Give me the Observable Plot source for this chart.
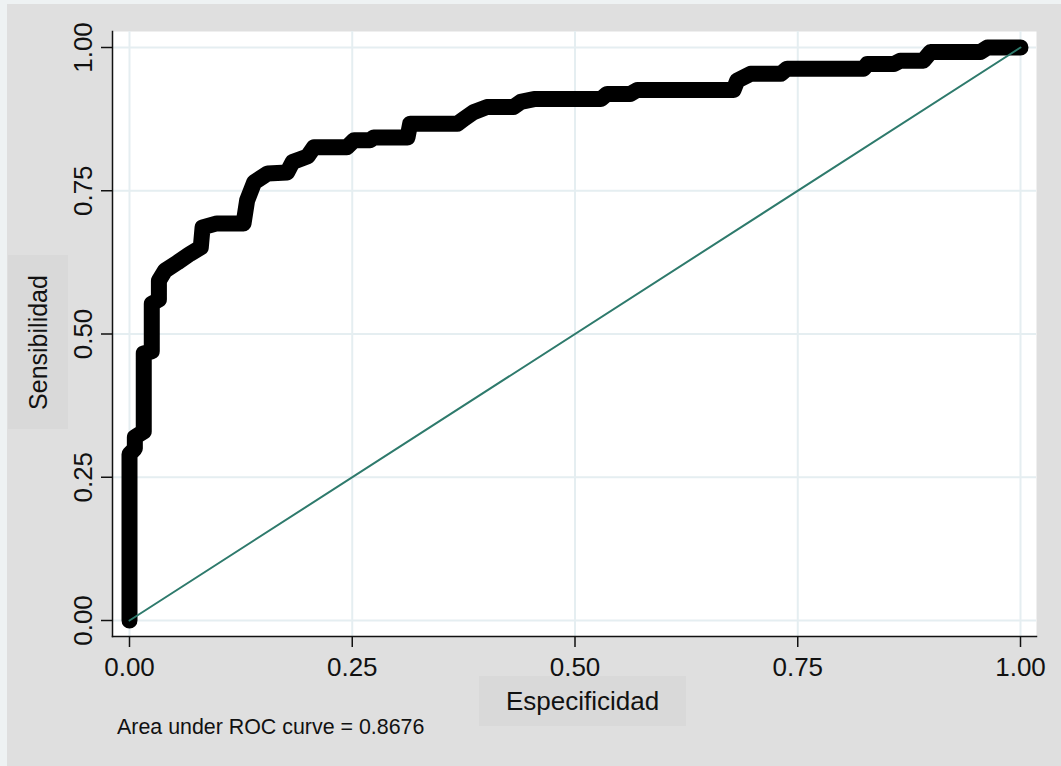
<!DOCTYPE html>
<html>
<head>
<meta charset="utf-8">
<script src="https://cdn.jsdelivr.net/npm/d3@7"></script>
<script src="https://cdn.jsdelivr.net/npm/@observablehq/plot@0.6"></script>
<style>
  html, body { margin: 0; padding: 0; background: #eef2f3; }
  #wrap { position: relative; width: 1061px; height: 766px; overflow: hidden; font-family: "Liberation Sans", Arial, Helvetica, sans-serif; }
  #bg { position: absolute; left: 7px; top: 4px; right: 0; bottom: 0; background: #dfdfdf; }
  #chart { position: absolute; left: 0; top: 0; }
  .box { position: absolute; background: #d9d9d9; color: #111; display: flex; align-items: center; justify-content: center; }
  #xtitle { left: 479px; top: 676px; width: 207px; height: 50px; font-size: 26px; }
  #ytitle { left: 8px; top: 255px; width: 60px; height: 174px; font-size: 25px; }
  #ytitle span { display: block; transform: rotate(-90deg); white-space: nowrap; }
  #caption { position: absolute; left: 117px; top: 715px; font-size: 21.4px; color: #111; white-space: nowrap; }
</style>
</head>
<body>
<div id="wrap">
  <div id="bg"></div>
  <div class="box" id="xtitle">Especificidad</div>
  <div class="box" id="ytitle"><span>Sensibilidad</span></div>
  <div id="caption">Area under ROC curve = 0.8676</div>
  <div id="chart"></div>
</div>
<script>
// ROC curve vertices (x axis labelled "Especificidad", y "Sensibilidad")
const especificidad = [0, 0, 0.006, 0.006, 0.016, 0.016, 0.025, 0.025, 0.033, 0.033, 0.040, 0.054, 0.068, 0.080, 0.082, 0.098, 0.128, 0.132, 0.140, 0.155, 0.177, 0.183, 0.200, 0.207, 0.244, 0.252, 0.270, 0.274, 0.312, 0.315, 0.368, 0.375, 0.386, 0.401, 0.431, 0.439, 0.454, 0.529, 0.536, 0.562, 0.570, 0.678, 0.682, 0.697, 0.731, 0.738, 0.824, 0.828, 0.858, 0.865, 0.891, 0.899, 0.955, 0.963, 1];
const sensibilidad = [0, 0.290, 0.300, 0.320, 0.330, 0.466, 0.470, 0.553, 0.560, 0.593, 0.611, 0.625, 0.640, 0.651, 0.686, 0.693, 0.693, 0.733, 0.765, 0.780, 0.782, 0.800, 0.810, 0.826, 0.826, 0.838, 0.838, 0.843, 0.843, 0.867, 0.867, 0.875, 0.887, 0.896, 0.896, 0.905, 0.910, 0.910, 0.919, 0.919, 0.926, 0.926, 0.942, 0.954, 0.954, 0.963, 0.963, 0.971, 0.971, 0.977, 0.977, 0.992, 0.992, 1, 1];
const refX = [0, 1];
const refY = [0, 1];
const tickValues = [0, 0.25, 0.5, 0.75, 1];
const tickLabels = ["0.00", "0.25", "0.50", "0.75", "1.00"];

const roc = especificidad.map((x, i) => ({x, y: sensibilidad[i]}));
const ref = refX.map((x, i) => ({x, y: refY[i]}));
const fmt = d => tickLabels[tickValues.indexOf(d)];

const plot = Plot.plot({
  width: 1061,
  height: 766,
  marginLeft: 112,
  marginRight: 25,
  marginTop: 31,
  marginBottom: 130,
  insetLeft: 17,
  insetRight: 16,
  insetTop: 16,
  insetBottom: 16,
  x: {domain: [0, 1]},
  y: {domain: [0, 1]},
  style: {background: "transparent", fontFamily: "Liberation Sans, Arial, Helvetica, sans-serif", fontSize: "26px", color: "#111"},
  marks: [
    Plot.frame({fill: "white", stroke: null}),
    Plot.gridX(tickValues, {stroke: "#e5eef1", strokeOpacity: 1, strokeWidth: 2}),
    Plot.gridY(tickValues, {stroke: "#e5eef1", strokeOpacity: 1, strokeWidth: 2}),
    Plot.axisX(tickValues, {tickFormat: fmt, tickSize: 11, tickPadding: 10, stroke: "#111", strokeWidth: 1.5, fontSize: 26, label: null}),
    Plot.axisY(tickValues, {tickFormat: fmt, tickSize: 11, tickPadding: 10, tickRotate: -90, stroke: "#111", strokeWidth: 1.5, fontSize: 26, label: null}),
    Plot.frame({anchor: "bottom", stroke: "#111", strokeWidth: 1.5}),
    Plot.frame({anchor: "left", stroke: "#111", strokeWidth: 1.5}),
    Plot.line(roc, {x: "x", y: "y", stroke: "black", strokeWidth: 16, strokeLinejoin: "round", strokeLinecap: "round"}),
    Plot.line(ref, {x: "x", y: "y", stroke: "#2e7a6c", strokeWidth: 2})
  ]
});
document.getElementById("chart").appendChild(plot);
</script>
</body>
</html>
